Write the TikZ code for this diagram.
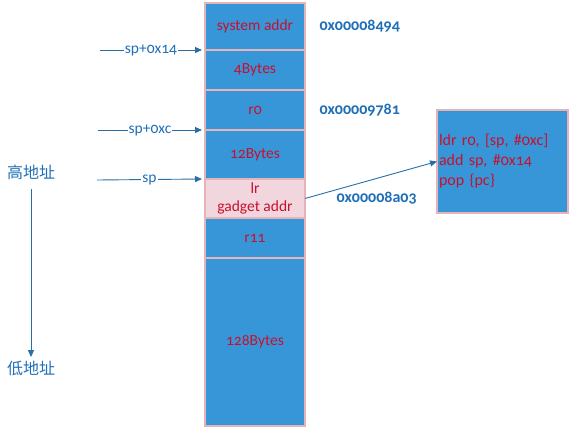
\documentclass[tikz,border=0pt]{standalone}
\usepackage{fontspec}
\usepackage{xcolor}
\setmainfont[Numbers=OldStyle]{Carlito}
\newfontfamily\cjk{Noto Sans CJK SC}
\usetikzlibrary{positioning,arrows.meta}
\definecolor{cellblue}{HTML}{3796D8}
\definecolor{cellpink}{HTML}{F2D6DE}
\definecolor{edgepink}{HTML}{E6B3B8}
\definecolor{txtred}{HTML}{C8102E}
\definecolor{addrblue}{HTML}{1F6FB8}
\definecolor{arrowblue}{HTML}{2A6EA6}

\begin{document}
\begin{tikzpicture}[x=1pt, y=-1pt,
  cell/.style={draw=edgepink, line width=1.5pt, outer sep=0pt, fill=cellblue, text=txtred, minimum width=100pt, inner sep=0pt, align=center, font=\fontsize{15.5}{18}\selectfont},
  addr/.style={text=addrblue, font=\fontsize{16}{18}\selectfont\bfseries, anchor=west},
  ptr/.style={draw=arrowblue, line width=0.9pt, -{Triangle[length=7pt,width=6pt]}},
  lbl/.style={text=addrblue, fill=white, inner sep=1pt, font=\fontsize{15.5}{17}\selectfont},
  node distance=0pt
]
\useasboundingbox (0,0) rectangle (572,429);
% stack frame
\node[cell, minimum height=47pt] (sys) at (255,26.5) {system addr};
\node[cell, minimum height=40pt, below=of sys] (four) {4Bytes};
\node[cell, minimum height=40pt, below=of four] (rzero) {r0};
\node[cell, minimum height=49pt, below=of rzero] (twelve) {12Bytes};
\node[cell, minimum height=39pt, fill=cellpink, below=of twelve] (lr) {lr\\gadget addr};
\node[cell, minimum height=40pt, below=of lr] (releven) {r11};
\node[cell, minimum height=168pt, below=of releven] (buf) {128Bytes};
% addresses
\node[addr, right=11pt of sys] (asys) {0x00008494};
\node[addr, right=11pt of rzero] (arzero) {0x00009781};
\node[addr] (alr) at ([xshift=28pt]lr.east) {0x00008a03};
% gadget
\node[cell, anchor=north west, minimum width=131pt, minimum height=103pt, text width=127pt, align=left, font=\fontsize{16}{20}\selectfont] (gadget) at (437,110) {ldr r0, [sp, \#0xc]\\add sp, \#0x14\\pop \{pc\}};
\draw[ptr] (lr.east) -- (gadget.west);
% stack pointers
\coordinate (psp14) at (100,50);
\coordinate (pspc) at (98,130);
\coordinate (psp) at (97,180);
\draw[ptr] (psp14) -- ([xshift=-3pt]sys.south west) node[lbl, midway] {sp+0x14};
\draw[ptr] (pspc) -- ([xshift=-3pt]rzero.south west) node[lbl, midway] {sp+0xc};
\draw[ptr] (psp) -- ([xshift=-3pt]lr.north west) node[lbl, midway] {sp};
% direction
\node[text=addrblue, font=\cjk\fontsize{16}{18}\selectfont] (high) at (31,172) {高地址};
\node[text=addrblue, font=\cjk\fontsize{16}{18}\selectfont] (low) at (31,368) {低地址};
\draw[ptr, shorten <=6pt] (high) -- (low);
\end{tikzpicture}
\end{document}
